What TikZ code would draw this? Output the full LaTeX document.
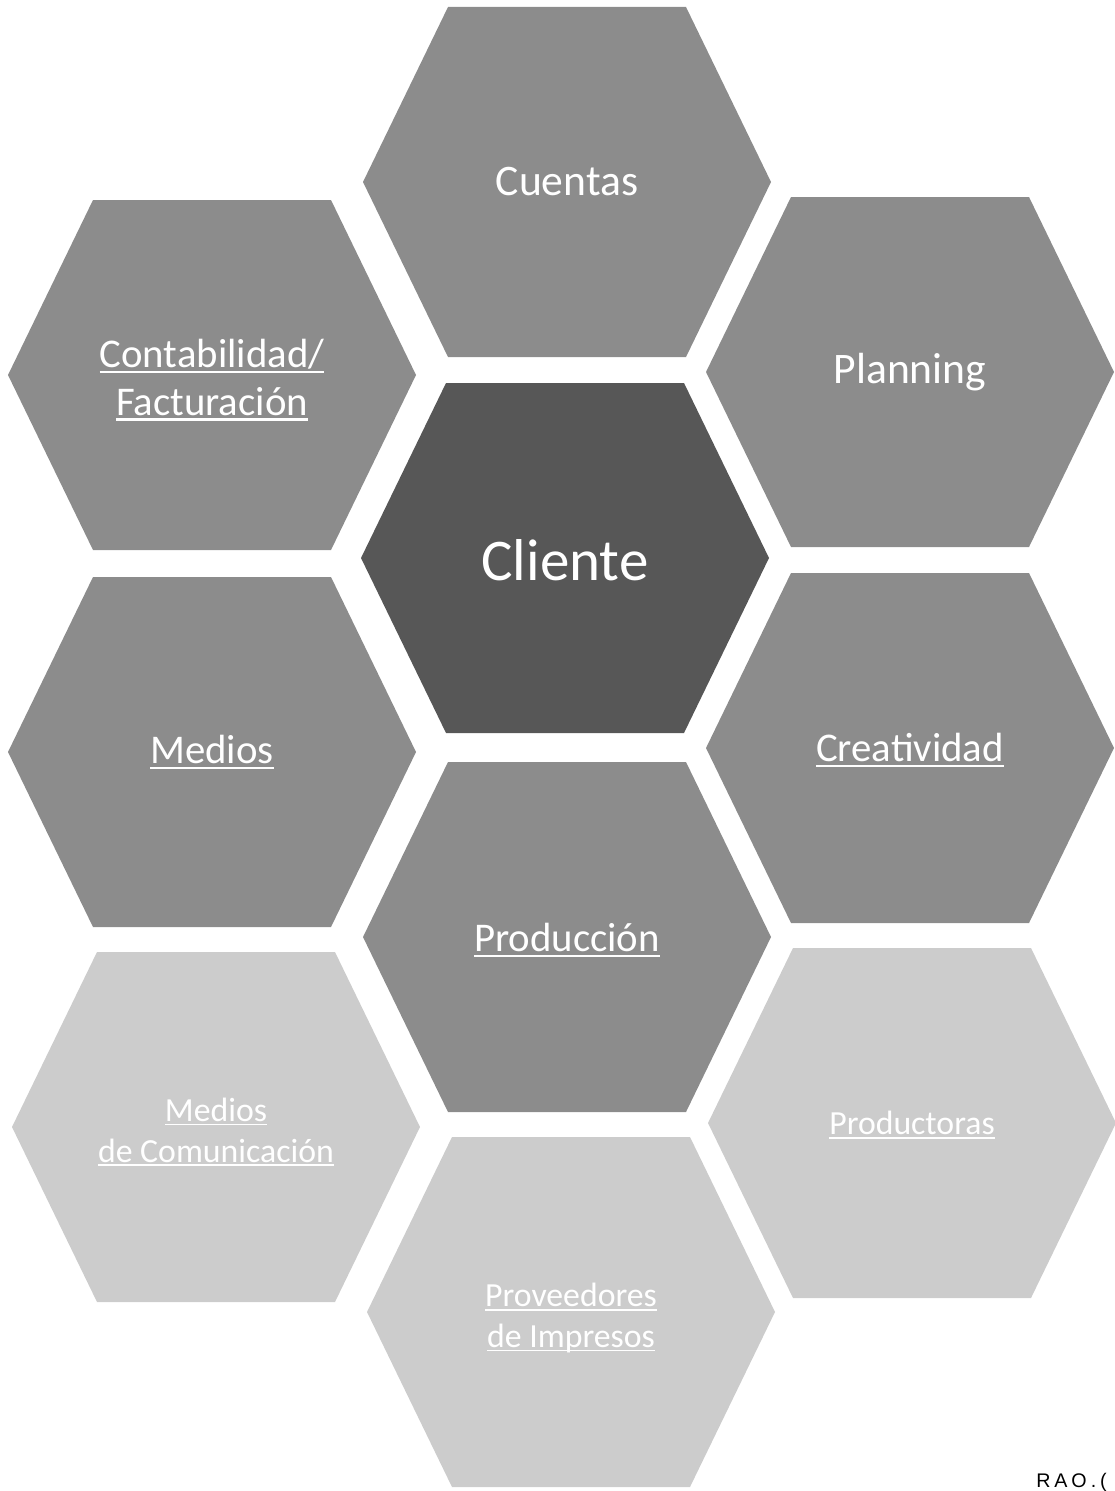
\documentclass[tikz,border=0pt]{standalone}
\usepackage{fontspec}
\setmainfont{Carlito}
\newfontfamily\scanfont{Liberation Sans}[LetterSpace=20]
\usetikzlibrary{positioning}
\newcommand\hexul[1]{\setbox0=\hbox{#1}\rlap{\rule[-0.12em]{\wd0}{0.05em}}\box0}
\tikzset{
  pics/hexa/.style={code={\fill (-204,0) -- (-119,-175) -- (119,-175) -- (204,0) -- (119,175) -- (-119,175) -- cycle;}},
  hextxt/.style={text=white, align=center, font=\fontsize{29}{34}\selectfont},
  toptxt/.style={hextxt, font=\fontsize{31}{36}\selectfont},
  bigtxt/.style={hextxt, font=\fontsize{42}{48}\selectfont},
  lowtxt/.style={hextxt, font=\fontsize{24}{29}\selectfont},
}

\begin{document}
\begin{tikzpicture}[x=0.025cm, y=-0.025cm]
			\useasboundingbox (0,0) rectangle (1114,1491);
			% inner ring
			\pic[fill=black!45] at (567,182) {hexa};
			\node[toptxt] (cuentas) at (567,182) {Cuentas};
			\pic[fill=black!45] at (212,375) {hexa};
			\node[hextxt] (contab) at (212,380) {\hexul{Contabilidad/}\\\hexul{Facturación}};
			\pic[fill=black!45] at (910,372) {hexa};
			\node[toptxt] (planning) at (910,372) {Planning};
			\pic[fill=black!66] at (565,558) {hexa};
			\node[bigtxt] (cliente) at (565,560) {Cliente};
			\pic[fill=black!45] at (212,752) {hexa};
			\node[hextxt] (medios) at (212,752) {\hexul{Medios}};
			\pic[fill=black!45] at (910,748) {hexa};
			\node[hextxt] (creat) at (910,750) {\hexul{Creatividad}};
			\pic[fill=black!45] at (567,937) {hexa};
			\node[hextxt] (produc) at (567,940) {\hexul{Producción}};
			% outer ring
			\pic[fill=black!20] at (216,1127) {hexa};
			\node[lowtxt] (mediosc) at (216,1132) {\hexul{Medios}\\\hexul{de Comunicación}};
			\pic[fill=black!20] at (912,1123) {hexa};
			\node[lowtxt] (productoras) at (912,1125) {\hexul{Productoras}};
			\pic[fill=black!20] at (571,1312) {hexa};
			\node[lowtxt] (proveed) at (571,1318) {\hexul{Proveedores}\\\hexul{de Impresos}};
			
			\node[anchor=base west, inner sep=0pt, font=\scanfont\fontsize{14}{17}\selectfont] (rao) at (1036,1487) {RAO.(};
		\end{tikzpicture}
\end{document}
